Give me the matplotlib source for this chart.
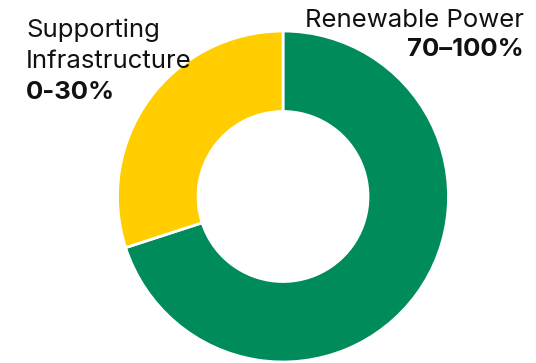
import matplotlib.pyplot as plt

# shares of the portfolio (upper end of each range)
labels = ['Renewable Power', 'Supporting', 'Infrastructure']
ranges = ['70\u2013100%', '0-30%']
shares = [70, 30]
colors = ['#008C5A', '#FFCD00']

W, H = 536, 363
fig = plt.figure(figsize=(W / 100, H / 100), dpi=100)
ax = fig.add_axes([0, 0, 1, 1])

ax.pie(shares, colors=colors, startangle=90, counterclock=False,
       center=(283, H - 196.5), radius=165.5,
       wedgeprops=dict(width=80.5, edgecolor='white', linewidth=2))
ax.set_xlim(0, W)
ax.set_ylim(0, H)
ax.set_aspect('equal')
ax.axis('off')

font = ['Inter', 'DejaVu Sans']
fs = 18.5
kw = dict(va='baseline', fontsize=fs, family=font, color='#111111')
# right label (renewables)
ax.text(524, H - 27, labels[0], ha='right', **kw)
ax.text(524, H - 56, ranges[0], ha='right', fontweight='bold', **kw)
# left label (infrastructure)
ax.text(26, H - 37, labels[1], ha='left', **kw)
ax.text(26, H - 68, labels[2], ha='left', **kw)
ax.text(26, H - 99, ranges[1], ha='left', fontweight='bold', **kw)

fig.savefig('out.png', dpi=100)
